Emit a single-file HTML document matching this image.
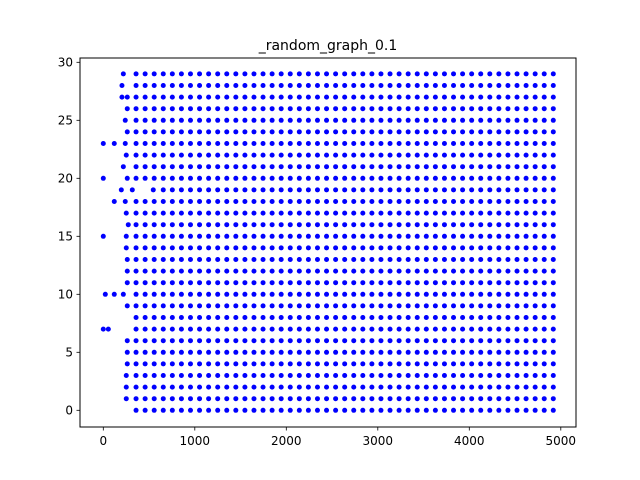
<!DOCTYPE html>
<html><head><meta charset="utf-8"><style>
body{margin:0;background:#fff}
svg{display:block;font-family:"DejaVu Sans","Liberation Sans",sans-serif}
</style></head><body>
<svg id="chart" width="640" height="480" viewBox="0 0 640 480">
<rect x="0" y="0" width="640" height="480" fill="#fff"/>
<text x="328" y="50" font-size="14" text-anchor="middle">_random_graph_0.1</text>
<g id="ticks"></g>
<g id="points"></g>
<rect x="80" y="58" width="496" height="369" fill="none" stroke="#000" stroke-width="1"/>
</svg>
<script>
const xTicks = [0, 1000, 2000, 3000, 4000, 5000];
const yTicks = [0, 5, 10, 15, 20, 25, 30];
const rows = [0,1,2,3,4,5,6,7,8,9,10,11,12,13,14,15,16,17,18,19,20,21,22,23,24,25,26,27,28,29];
const gridStart = 358;
const gridStep = 99.13;
const gridCount = 47;
const extraX = [[],[251],[251],[251],[262],[262],[262],[0,55],[],[262],[22,120,219],[262],[262],[262],[251],[0,251],[273],[251],[120,240],[197,317],[0,262],[219],[251],[0,120,240],[262],[240],[262],[204,262],[204],[219]];
const skipCols = [[],[],[],[],[],[],[],[],[],[],[],[],[],[],[],[],[],[],[],[0,1],[],[],[],[],[],[],[],[],[],[]];
const rowShift = [0,0,0,0,0,0,0,0,0,0,0,0,0,0,0,0,0,0,0,-10,0,0,0,0,0,0,0,0,0,0];

const NS = "http://www.w3.org/2000/svg";
const xs = v => 103.3 + v * 0.0915;
const ys = v => 410.3 - v * 11.6;
const tg = document.getElementById('ticks');
const pg = document.getElementById('points');
function mk(tag, attrs, parent){const e=document.createElementNS(NS,tag);for(const k in attrs)e.setAttribute(k,attrs[k]);parent.appendChild(e);return e;}
xTicks.forEach(t=>{
  const l=mk('line',{x1:xs(t),x2:xs(t),y1:427,y2:430.5,stroke:'#000','stroke-width':0.8},tg);
  
  
  const tx=mk('text',{x:xs(t),y:445,'font-size':12,'text-anchor':'middle'},tg);
  tx.textContent=t;
  
  
});
yTicks.forEach(t=>{
  const l=mk('line',{x1:76.5,x2:80,y1:ys(t),y2:ys(t),stroke:'#000','stroke-width':0.8},tg);
  
  
  const tx=mk('text',{x:73,y:ys(t)+4.3,'font-size':12,'text-anchor':'end'},tg);
  tx.textContent=t;
  
  
});
rows.forEach((r,i)=>{
  const vals=[...extraX[i]];
  for(let c=0;c<gridCount;c++){ if(skipCols[i].includes(c)) continue; vals.push(gridStart+c*gridStep+(c<3?rowShift[i]:0)); }
  vals.forEach(v=>{
    const p=mk('circle',{cx:xs(v),cy:ys(r),r:2.5,fill:'#0000ff'},pg);
    
    
  });
});
</script>
</body></html>
